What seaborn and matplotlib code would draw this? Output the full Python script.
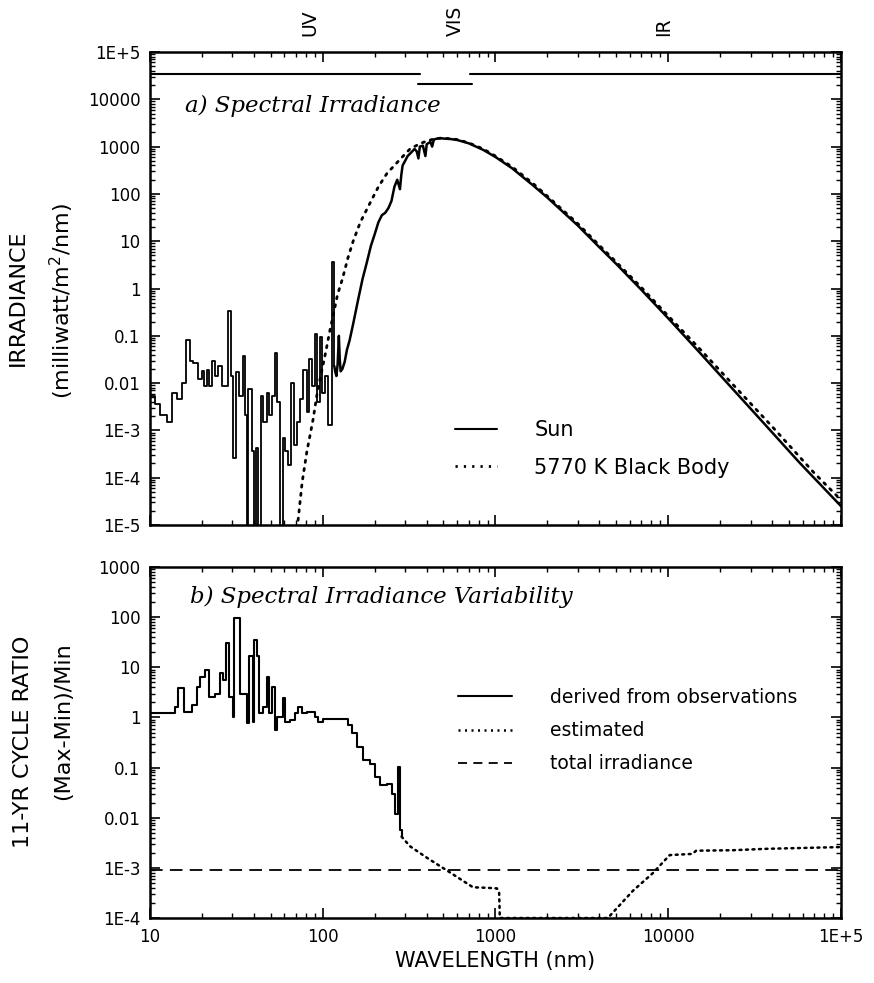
import numpy as np
import pandas as pd
import matplotlib
matplotlib.use("Agg")
import matplotlib.pyplot as plt
from matplotlib.ticker import LogLocator, NullFormatter
from matplotlib.lines import Line2D
import seaborn as sns

# ---------------- panel a) spectral irradiance (mW/m^2/nm) ----------------
# EUV part, drawn as steps: bin start wavelength (nm) and level
euv_wl = [10.0, 10.69, 11.43, 12.49, 13.35, 14.27, 15.25, 16.16, 17.04, 17.81,
          19.05, 19.91, 20.54, 21.28, 22.06, 22.75, 23.79, 24.86, 25.99, 28.41,
          29.31, 30.37, 31.46, 32.89, 34.39, 35.47, 36.27, 37.09, 38.78, 39.99,
          41.07, 42.38, 43.72, 45.29, 47.35, 49.07, 50.62, 52.92, 54.6, 56.57,
          58.61, 60.46, 63.22, 65.22, 68.18, 70.63, 73.84, 77.2, 80.7, 83.6,
          86.3, 90.2, 93.0, 96.4, 99.4, 103.0, 107.7, 112.6, 116.7]
euv_irr = [5.4e-3, 3.6e-3, 2.1e-3, 1.5e-3, 6.3e-3, 4.6e-3, 1.0e-2, 8.1e-2, 2.9e-2, 2.7e-2,
           1.2e-2, 1.8e-2, 8.7e-3, 1.9e-2, 8.7e-3, 2.9e-2, 1.4e-2, 2.3e-2, 8.7e-3, 0.34,
           1.4e-2, 2.6e-4, 1.7e-2, 5.4e-3, 3.7e-2, 2.1e-3, 1e-6, 7.4e-3, 3.6e-4, 1e-6,
           4.2e-4, 1e-6, 5.4e-3, 1.5e-3, 6.3e-3, 2.1e-3, 5.4e-3, 4.3e-2, 4.0e-3, 1e-6,
           6.8e-4, 3.6e-4, 1.9e-4, 1.0e-2, 4.9e-4, 1.5e-3, 4.6e-3, 1.9e-2, 2.5e-3, 3.2e-2,
           8.7e-3, 0.11, 4.0e-3, 9.5e-2, 6.3e-3, 1.4e-2, 1.3e-3, 3.7, 2.3e-2]

# rest of the solar spectrum (log10 of irradiance)
sun_wl = [116.7, 118, 120, 122, 124, 125.5, 127, 130, 134, 138, 143, 150, 160, 170,
          180, 190, 200, 210, 220, 230, 240, 250, 260, 270, 280, 285, 290, 300, 310,
          320, 330, 340, 350, 358, 365, 380, 393, 400, 420, 430, 440, 460, 480, 500,
          550, 600, 700, 850, 1000, 1250, 1650, 2000, 3000, 4000, 5000, 7000, 10000,
          15000, 23700, 35000, 57500, 100000]
sun_log = [-1.64, -1.75, -1.85, -1.6, -1.0, -1.5, -1.75, -1.7, -1.55, -1.3, -1.1, -0.75,
           -0.25, 0.2, 0.55, 0.9, 1.15, 1.4, 1.55, 1.6, 1.7, 1.85, 2.15, 2.3, 2.1, 2.4,
           2.6, 2.7, 2.8, 2.85, 2.9, 2.95, 2.9, 2.75, 3.0, 3.02, 2.8, 3.05, 3.1, 3.0,
           3.15, 3.17, 3.18, 3.17, 3.16, 3.14, 3.07, 2.93, 2.78, 2.54, 2.18, 1.92, 1.33,
           0.87, 0.52, -0.03, -0.63, -1.33, -2.13, -2.81, -3.68, -4.6]

# 5770 K black body (log10)
bb_wl = [72, 76, 81, 85, 88, 93, 99, 104, 110, 116, 122, 130, 140, 150, 165, 188, 210,
         236, 260, 280, 320, 360, 400, 450, 500, 600, 700, 850, 1000, 1250, 1650, 2000,
         3000, 4000, 5000, 7000, 10000, 15000, 23700, 40000, 70000, 100000]
bb_log = [-4.9, -4.1, -3.44, -3.05, -2.76, -2.2, -1.72, -1.35, -0.89, -0.5, -0.12, 0.2,
          0.65, 1.0, 1.4, 1.81, 2.15, 2.44, 2.6, 2.73, 2.95, 3.05, 3.12, 3.17, 3.18, 3.15,
          3.08, 2.95, 2.8, 2.57, 2.22, 1.95, 1.37, 0.91, 0.56, 0.02, -0.58, -1.25, -2.03,
          -2.92, -3.9, -4.47]

# UV / VIS / IR bands (nm) and bar heights
band_names = ["UV", "VIS", "IR"]
band_lo = [10, 355, 715]
band_hi = [365, 730, 100000]
band_level = [3.5e4, 2.1e4, 3.5e4]
band_label_wl = [84, 583, 9440]

# ---------------- panel b) 11-yr cycle ratio ----------------
obs_wl = [10.0, 13.95, 14.6, 15.7, 17.4, 18.6, 19.6, 20.8, 22.1, 23.8, 25.4, 26.6, 27.6,
          28.8, 30.1, 30.8, 33.2, 36.3, 37.6, 39.3, 40.2, 41.4, 42.9, 45.3, 47.4, 49.1,
          50.6, 53.0, 54.6, 58.6, 60.4, 64.6, 69.2, 72.3, 75.5, 80.8, 90.0, 94.2, 101,
          140.5, 147, 157, 172, 188.5, 201.5, 215.5, 235, 251, 262.5, 274, 280, 286]
obs_ratio = [1.2, 1.6, 3.8, 1.3, 1.8, 4.1, 6.5, 8.7, 2.6, 3.0, 7.6, 5.5, 30,
             2.6, 1.0, 95, 3.0, 0.76, 17, 0.81, 35, 17, 1.2, 1.6, 6.5, 1.2,
             4.1, 0.56, 1.0, 2.4, 0.81, 0.89, 1.2, 1.6, 1.2, 1.3, 1.0, 0.81, 0.95,
             0.71, 0.48, 0.26, 0.14, 0.12, 0.065, 0.045, 0.048, 0.030, 0.012, 0.105, 5.6e-3, 4.2e-3]

est_wl = [286, 320, 400, 546, 741, 900, 1020, 1050, 1060, 4470, 6250, 8130, 10200,
          13800, 14500, 23700, 37000, 100000]
est_ratio = [4.2e-3, 2.7e-3, 1.6e-3, 8.1e-4, 4.1e-4, 4.0e-4, 3.9e-4, 3.2e-4, 1e-4, 1e-4,
             3.5e-4, 7.8e-4, 1.8e-3, 1.9e-3, 2.2e-3, 2.25e-3, 2.4e-3, 2.6e-3]

tot_wl = [10, 100000]
tot_ratio = [9e-4, 9e-4]

x_ticks = [10, 100, 1000, 10000, 100000]
x_tick_labels = ["10", "100", "1000", "10000", "1E+5"]
ya_ticks = [1e-5, 1e-4, 1e-3, 1e-2, 1e-1, 1, 10, 100, 1000, 1e4, 1e5]
ya_tick_labels = ["1E-5", "1E-4", "1E-3", "0.01", "0.1", "1", "10", "100", "1000", "10000", "1E+5"]
yb_ticks = [1e-4, 1e-3, 1e-2, 1e-1, 1, 10, 100, 1000]
yb_tick_labels = ["1E-4", "1E-3", "0.01", "0.1", "1", "10", "100", "1000"]

sns.set_theme(style="ticks")
plt.rcParams["font.family"] = ["DejaVu Sans"]
plt.rcParams["axes.edgecolor"] = "black"
plt.rcParams["axes.linewidth"] = 1.8
plt.rcParams["text.color"] = "black"
plt.rcParams["axes.labelcolor"] = "black"
plt.rcParams["xtick.color"] = "black"
plt.rcParams["ytick.color"] = "black"
plt.rcParams["xtick.labelcolor"] = "black"
plt.rcParams["ytick.labelcolor"] = "black"

fig = plt.figure(figsize=(8.74, 9.83), dpi=100)
ax1 = fig.add_axes([0.1716, 0.4659, 0.7906, 0.4812])
ax2 = fig.add_axes([0.1716, 0.0661, 0.7906, 0.3571])

euv = pd.DataFrame({"wl": euv_wl, "irr": euv_irr})
sun = pd.DataFrame({"wl": sun_wl, "irr": 10.0 ** np.array(sun_log)})
bb = pd.DataFrame({"wl": bb_wl, "irr": 10.0 ** np.array(bb_log)})

sns.lineplot(data=euv, x="wl", y="irr", ax=ax1, color="black", lw=1.3,
             drawstyle="steps-post", estimator=None, sort=False)
sns.lineplot(data=sun, x="wl", y="irr", ax=ax1, color="black", lw=1.8,
             estimator=None, sort=False)
sns.lineplot(data=bb, x="wl", y="irr", ax=ax1, color="black", lw=2.0,
             linestyle=(0, (0.8, 2.2)), dash_capstyle="round", estimator=None, sort=False)

for lo, hi, lev in zip(band_lo, band_hi, band_level):
    ax1.plot([lo, hi], [lev, lev], color="black", lw=1.5)
for name, wl in zip(band_names, band_label_wl):
    ax1.text(wl, 1.034, name, rotation=90, ha="center", va="bottom", fontsize=13.5,
             transform=ax1.get_xaxis_transform())

obs = pd.DataFrame({"wl": obs_wl, "r": obs_ratio})
est = pd.DataFrame({"wl": est_wl, "r": est_ratio})
tot = pd.DataFrame({"wl": tot_wl, "r": tot_ratio})
sns.lineplot(data=obs, x="wl", y="r", ax=ax2, color="black", lw=1.5,
             drawstyle="steps-post", estimator=None, sort=False)
sns.lineplot(data=est, x="wl", y="r", ax=ax2, color="black", lw=1.8,
             linestyle=(0, (0.8, 1.8)), dash_capstyle="round", estimator=None, sort=False)
sns.lineplot(data=tot, x="wl", y="r", ax=ax2, color="black", lw=1.3,
             linestyle=(0, (7, 4)), estimator=None, sort=False)

for ax, yt, ytl, ylim in [(ax1, ya_ticks, ya_tick_labels, (1e-5, 1e5)),
                          (ax2, yb_ticks, yb_tick_labels, (1e-4, 1e3))]:
    ax.set_xscale("log")
    ax.set_yscale("log")
    ax.set_xlim(10, 1e5)
    ax.set_ylim(*ylim)
    ax.set_xticks(x_ticks, x_tick_labels)
    ax.set_yticks(yt, ytl)
    ax.xaxis.set_minor_locator(LogLocator(base=10, subs=np.arange(2, 10), numticks=50))
    ax.yaxis.set_minor_locator(LogLocator(base=10, subs=np.arange(2, 10), numticks=50))
    ax.xaxis.set_minor_formatter(NullFormatter())
    ax.yaxis.set_minor_formatter(NullFormatter())
    ax.tick_params(which="both", direction="in", top=True, right=True, color="black")
    ax.tick_params(which="major", length=7, width=1.2, labelsize=12, pad=7)
    ax.tick_params(which="minor", length=3.5, width=1.0)
    ax.set_xlabel("")
    ax.set_ylabel("")
    for sp in ax.spines.values():
        sp.set_linewidth(1.8)
ax1.tick_params(labelbottom=False)

ax1.text(0.05, 0.886, "a) Spectral Irradiance", transform=ax1.transAxes, va="center",
         fontsize=16.5, family="DejaVu Serif", style="italic")
ax2.text(0.058, 0.915, "b) Spectral Irradiance Variability", transform=ax2.transAxes,
         va="center", fontsize=16.5, family="DejaVu Serif", style="italic")

ax2.set_xlabel("WAVELENGTH (nm)", fontsize=15, labelpad=4)

fig.text(18 / 874, 1 - 298 / 983, "IRRADIANCE", rotation=90, ha="center", va="center", fontsize=16)
fig.text(62 / 874, 1 - 301 / 983, "(milliwatt/m$^2$/nm)", rotation=90, ha="center", va="center", fontsize=16)
fig.text(23 / 874, 1 - 742 / 983, "11-YR CYCLE RATIO", rotation=90, ha="center", va="center", fontsize=16)
fig.text(63 / 874, 1 - 721 / 983, "(Max-Min)/Min", rotation=90, ha="center", va="center", fontsize=16)

h_sun = Line2D([], [], color="black", lw=1.5)
h_bb = Line2D([], [], color="black", lw=2.0, linestyle=(0, (0.8, 2.2)))
ax1.legend([h_sun, h_bb], ["Sun", "5770 K Black Body"], loc="upper left",
           bbox_to_anchor=(455 / 874, 1 - 420 / 983), bbox_transform=fig.transFigure,
           frameon=False, fontsize=15, handlelength=2.0, handletextpad=1.8,
           labelspacing=0.85, borderpad=0, borderaxespad=0)

h_obs = Line2D([], [], color="black", lw=1.5)
h_est = Line2D([], [], color="black", lw=1.8, linestyle=(0, (0.8, 1.8)))
h_tot = Line2D([], [], color="black", lw=1.3, linestyle=(0, (5, 3.5)))
ax2.legend([h_obs, h_est, h_tot], ["derived from observations", "estimated", "total irradiance"],
           loc="upper left", bbox_to_anchor=(458 / 874, 1 - 688 / 983),
           bbox_transform=fig.transFigure, frameon=False, fontsize=13.5,
           handlelength=2.9, handletextpad=2.0, labelspacing=0.75,
           borderpad=0, borderaxespad=0)

fig.savefig("out.png", dpi=100, facecolor="white")
